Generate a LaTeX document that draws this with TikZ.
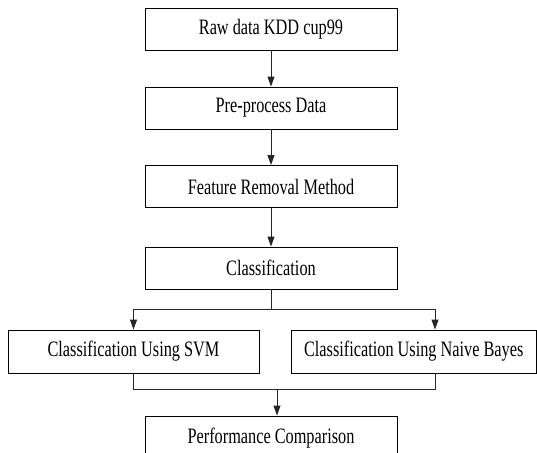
\documentclass[tikz,border=0pt]{standalone}
\usepackage{fontspec}
\setmainfont{Liberation Serif}[FakeStretch=0.74]
\usepackage{tikz}
\usetikzlibrary{arrows.meta, positioning, calc}
\tikzset{
  stagebox/.style={draw=black, line width=0.9pt, fill=white, minimum width=252pt,
                   minimum height=42pt, inner sep=0pt, font=\fontsize{22}{26}\selectfont},
  flowline/.style={draw=black!85, line width=0.9pt},
  flowarrow/.style={flowline, -{Triangle[length=10pt, width=7pt]}}
}

\begin{document}
\begin{tikzpicture}[x=1pt, y=1pt]
  \useasboundingbox (0,0) rectangle (537,-452);
  % main column
  \node[stagebox] (raw)  at (271,-29)    {Raw data KDD cup99};
  \node[stagebox] (prep) at (271,-108)   {Pre-process Data};
  \node[stagebox] (feat) at (271,-186.5) {Feature Removal Method};
  \node[stagebox] (cls)  at (271,-268)   {Classification};
  % two classifiers
  \node[stagebox, minimum width=251pt, minimum height=43pt] (svm) at (133.5,-351.5)
    {Classification Using SVM};
  \node[stagebox, minimum width=245.5pt, minimum height=43pt] (nb) at (413.75,-351.5)
    {Classification Using Naive Bayes};
  \node[stagebox, minimum height=44pt] (perf) at (271,-438) {Performance Comparison};

  \draw[flowarrow] (raw) -- (prep);
  \draw[flowarrow] (prep) -- (feat);
  \draw[flowarrow] (feat) -- (cls);

  % split below classification
  \coordinate (split) at ($(cls.south)+(0,-19.5)$);
  \coordinate (svmin) at (svm.north |- split);
  \coordinate (nbin) at ($(nb.north |- split)+(21.25,0)$);
  \draw[flowline] (cls.south) -- (split);
  \draw[flowline] (svmin) -- (nbin);
  \draw[flowarrow] (svmin) -- (svm.north);
  \draw[flowarrow] (nbin) -- (nbin |- nb.north);

  % merge into comparison
  \coordinate (svmout) at ($(svm.south)+(0,-16)$);
  \coordinate (nbout) at (nbin |- svmout);
  \coordinate (merge) at ($(perf.north |- svmout)+(6,0)$);
  \draw[flowline] (svm.south) -- (svmout) -- (nbout) -- (nbout |- nb.south);
  \draw[flowarrow] (merge) -- (merge |- perf.north);
\end{tikzpicture}
\end{document}
